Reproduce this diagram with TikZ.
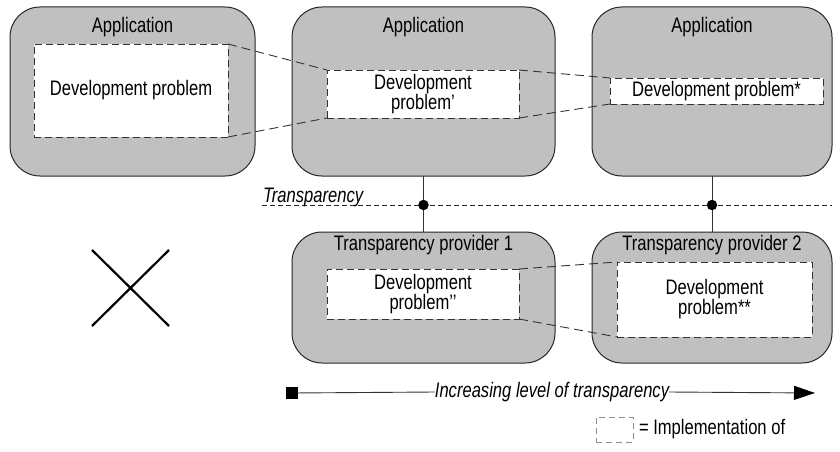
\documentclass[tikz,border=0pt]{standalone}
\usepackage{fontspec}
\setmainfont{Liberation Sans}[FakeStretch=0.79]
\usetikzlibrary{arrows.meta,positioning}
\definecolor{boxgray}{RGB}{192,192,192}

\begin{document}
\begin{tikzpicture}[x=1pt,y=-1pt,line join=round,>=Triangle,
  every node/.style={inner sep=0pt,outer sep=0pt,font=\fontsize{21}{20}\selectfont},
  app/.style={draw=black!85,fill=boxgray,line width=1pt,rounded corners=30pt},
  impl/.style={draw=black!80,fill=white,dash pattern=on 7pt off 4pt,line width=0.9pt,align=center},
  link/.style={draw=black!80,dash pattern=on 9pt off 5pt,line width=0.9pt},
  joint/.style={circle,fill=black,minimum size=10.5pt}]
  \useasboundingbox (0,0) rectangle (840,452);
  \node[app,minimum width=245pt,minimum height=169pt] (a1) at (132.5,91.5) {};
  \node[app,minimum width=263pt,minimum height=169pt] (a2) at (423.5,91.5) {};
  \node[app,minimum width=240pt,minimum height=169pt] (a3) at (712,91.5) {};
  \node[app,minimum width=263pt,minimum height=131pt] (tp1) at (423.5,297.5) {};
  \node[app,minimum width=240pt,minimum height=131pt] (tp2) at (712,297.5) {};
  \node (a1t) at (132.5,27) {Application};
  \node (a2t) at (423.5,27) {Application};
  \node (a3t) at (712,27) {Application};
  \node (tp1t) at (423.5,245) {Transparency provider 1};
  \node (tp2t) at (712,245) {Transparency provider 2};
  \node[impl,minimum width=194pt,minimum height=93pt] (d1) at (131,90.5) {Development problem};
  \node[impl,minimum width=192pt,minimum height=48pt] (d2) at (423,94) {Development\\problem’};
  \node[impl,minimum width=213pt,minimum height=26pt] (d3) at (716.5,91) {Development problem*};
  \node[impl,minimum width=192pt,minimum height=50pt] (d4) at (423,294) {Development\\problem’’};
  \node[impl,minimum width=195pt,minimum height=75pt] (d5) at (714.5,299.5) {Development\\problem**};
  \draw[link] (d1.north east) -- (d2.north west);
  \draw[link] (d1.south east) -- (d2.south west);
  \draw[link] (d2.north east) -- (d3.north west);
  \draw[link] (d2.south east) -- (d3.south west);
  \draw[link] (d4.north east) -- (d5.north west);
  \draw[link] (d4.south east) -- (d5.south west);
  \coordinate (tl) at (262,205);
  \coordinate (tr) at (832,205);
  \draw[black!85,dash pattern=on 5pt off 3pt,line width=0.9pt] (tl) -- (tr);
  \node[anchor=base west] (tlab) at (263,202) {\itshape Transparency};
  \draw[black!80,line width=1pt] (a2.south) -- (tp1.north);
  \draw[black!80,line width=1pt] (a3.south) -- (tp2.north);
  \node[joint] (j1) at (a2.south |- tl) {};
  \node[joint] (j2) at (a3.south |- tl) {};
  \draw[line width=2.2pt] (92,250) -- (169,326) (92,326) -- (169,250);
  \node[fill=black,minimum size=12pt] (sq) at (292,393) {};
  \node (inc) at (552,392) {\itshape Increasing level of transparency};
  \coordinate (tip) at (815,393);
  \draw[black!80,line width=0.9pt] (sq) -- (inc.west);
  \draw[black!80,line width=0.9pt,-{Triangle[length=21pt,width=14pt,black]}] (inc.east) -- (tip);
  \node[draw=black!45,dash pattern=on 6pt off 4pt,line width=0.9pt,minimum width=37pt,minimum height=25pt] (leg) at (614.5,429.5) {};
  \node[right=6pt of leg] (legt) {= Implementation of};
\end{tikzpicture}
\end{document}
